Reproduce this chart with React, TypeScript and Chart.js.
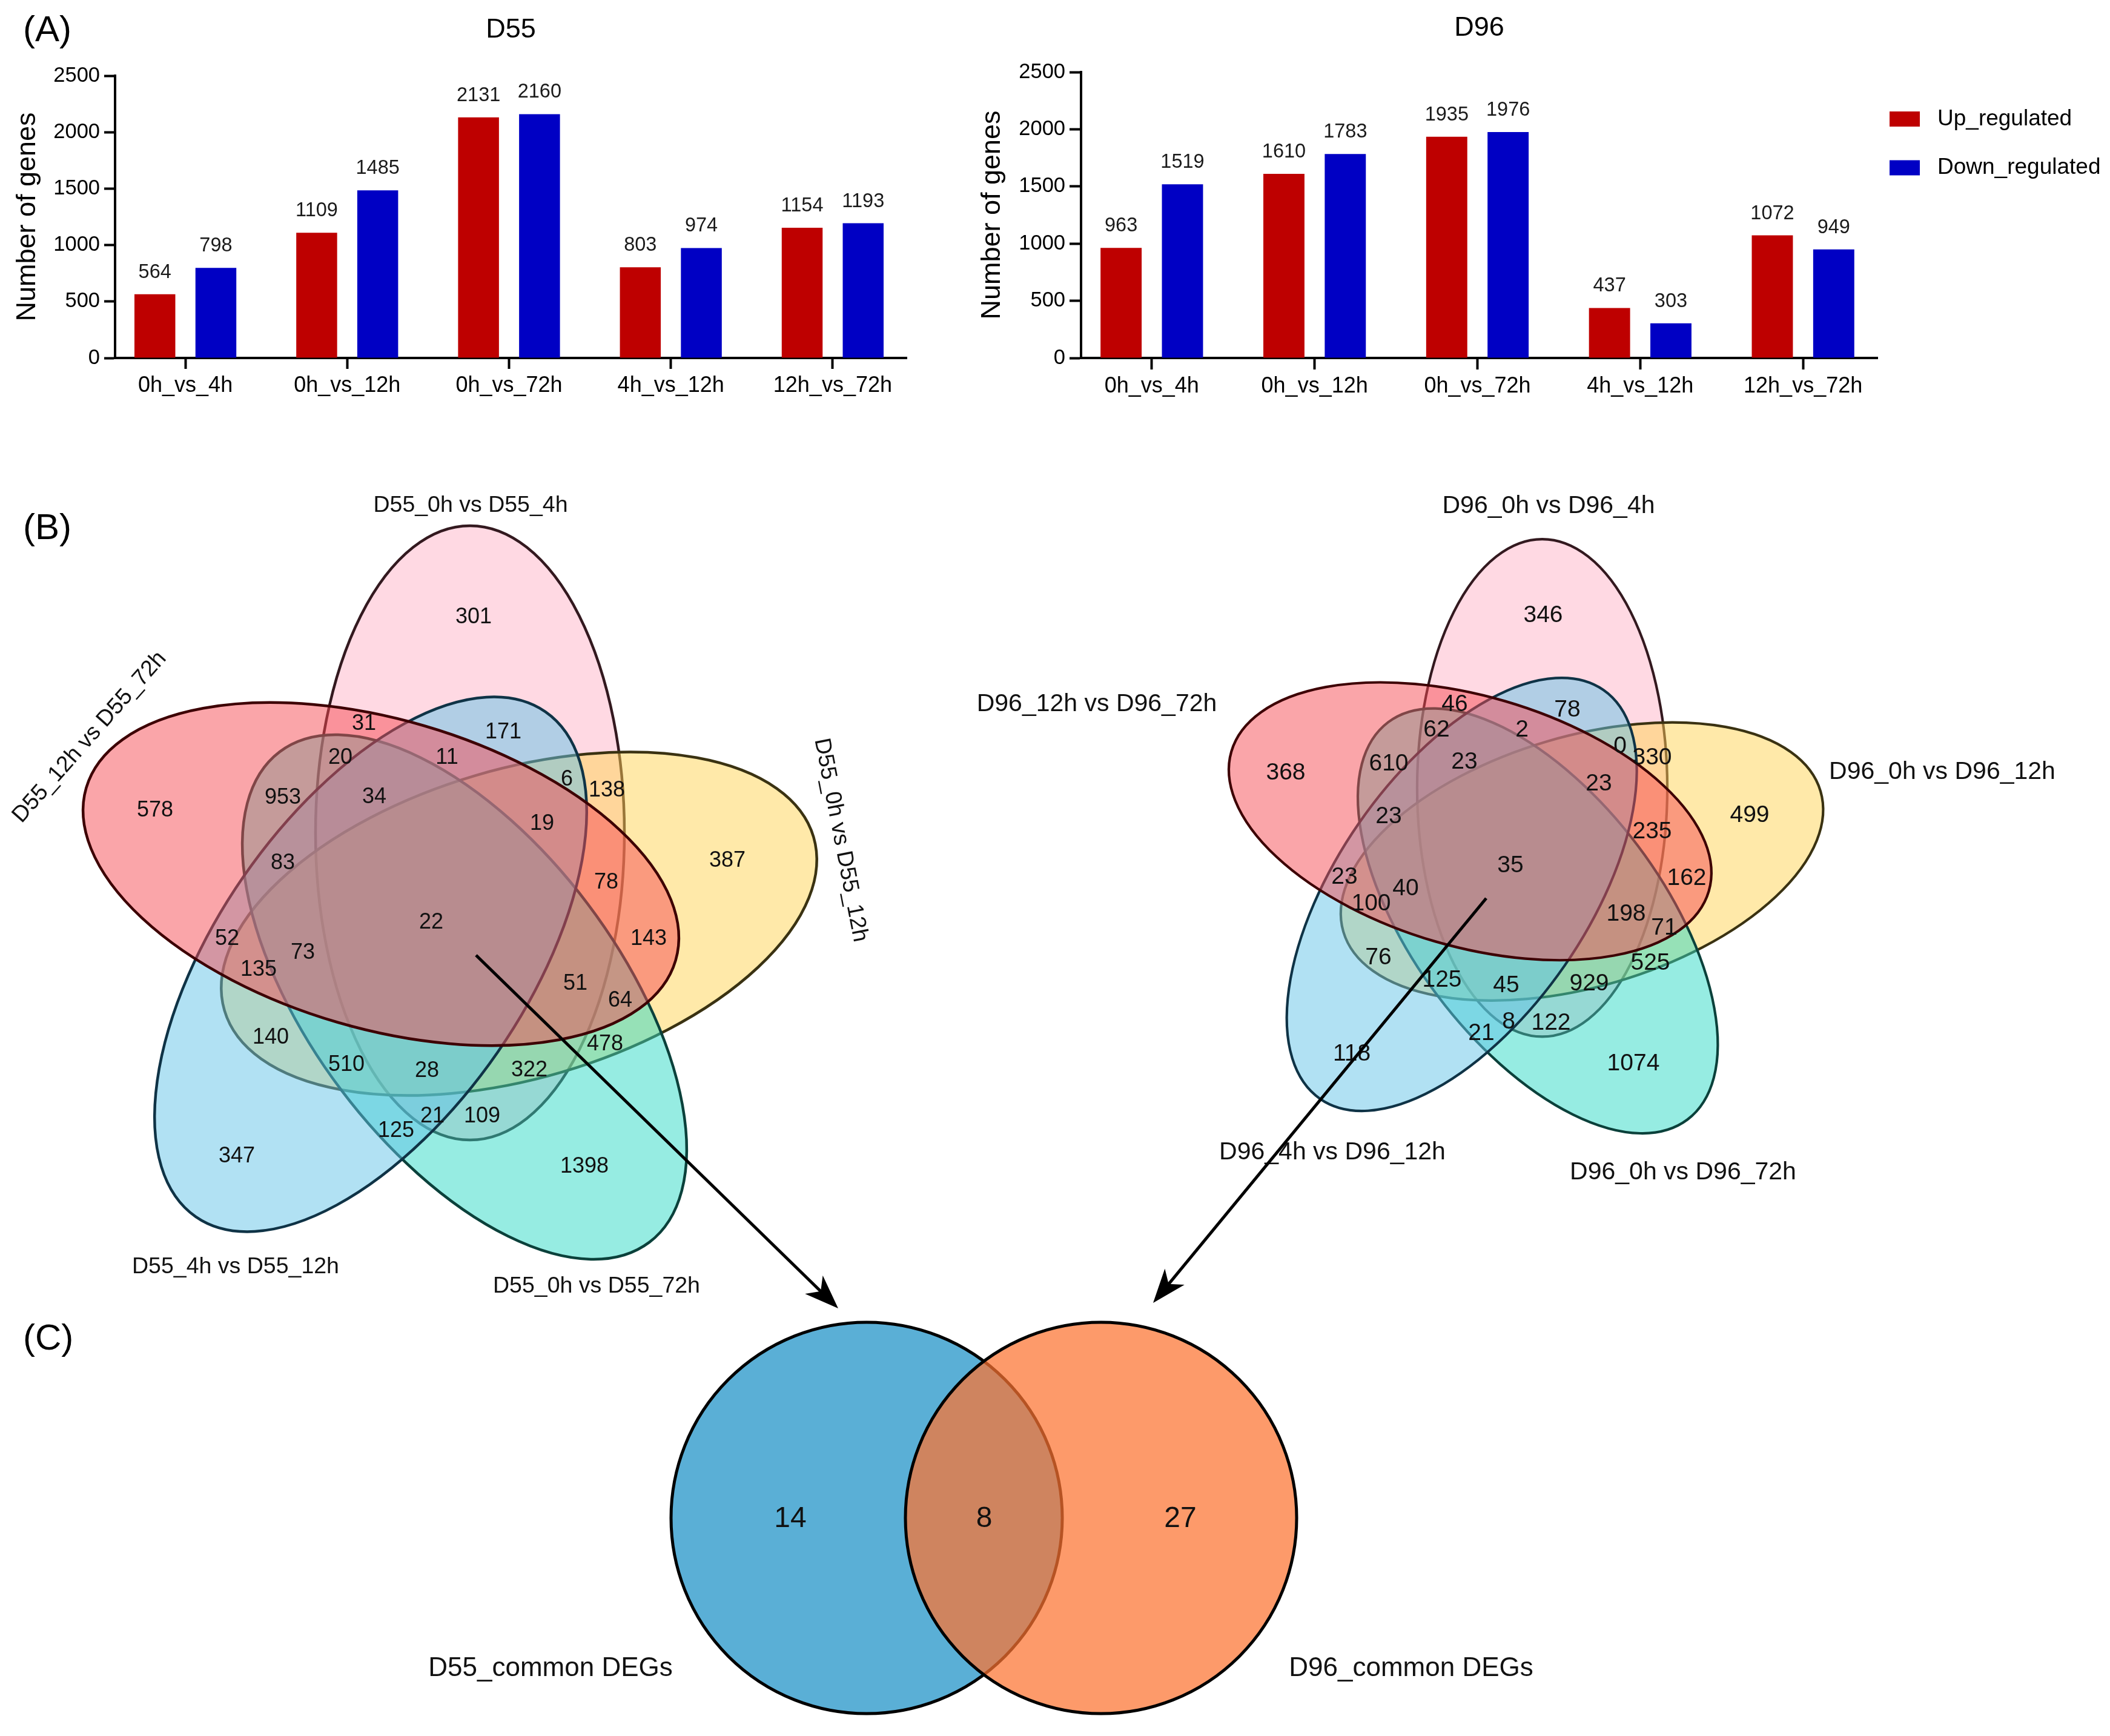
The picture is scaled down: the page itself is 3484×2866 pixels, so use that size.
import React, { useEffect, useRef } from 'react';
import { Chart, registerables } from 'chart.js';

Chart.register(...registerables);

const FONT = '"Liberation Sans", Arial, Helvetica, sans-serif';
Chart.defaults.font.family = FONT;
Chart.defaults.color = '#000';

// ---------------- (A) bar charts: data ----------------
const COMPARISONS = ['0h_vs_4h', '0h_vs_12h', '0h_vs_72h', '4h_vs_12h', '12h_vs_72h'];
const SERIES_NAMES = ['Up_regulated', 'Down_regulated'];
const D55_UP = [564, 1109, 2131, 803, 1154];
const D55_DOWN = [798, 1485, 2160, 974, 1193];
const D96_UP = [963, 1610, 1935, 437, 1072];
const D96_DOWN = [1519, 1783, 1976, 303, 949];
const Y_MAX = 2500;
const Y_STEP = 500;

// ---------------- (B) five-set Venn: data ----------------
const D55_SETS = ['D55_0h vs D55_4h', 'D55_0h vs D55_12h', 'D55_0h vs D55_72h', 'D55_4h vs D55_12h', 'D55_12h vs D55_72h'];
const D96_SETS = ['D96_0h vs D96_4h', 'D96_0h vs D96_12h', 'D96_0h vs D96_72h', 'D96_4h vs D96_12h', 'D96_12h vs D96_72h'];
const D55_REGION_COUNTS = [301, 31, 171, 20, 11, 6, 138, 578, 953, 34, 19, 387, 83, 78, 22, 52, 73, 143, 135, 51, 64, 140, 478, 510, 28, 322, 21, 109, 125, 347, 1398];
const D96_REGION_COUNTS = [346, 46, 78, 62, 2, 0, 330, 368, 610, 23, 23, 499, 23, 235, 35, 23, 40, 162, 100, 198, 71, 76, 525, 125, 45, 929, 8, 122, 21, 118, 1074];

// ---------------- (C) two-set Venn: data ----------------
const COMMON_SETS = ['D55_common DEGs', 'D96_common DEGs'];
const COMMON_COUNTS = [14, 8, 27];

// ---------------- layout of the diagrams (venn-space units) ----------------
type XY = [number, number];
const D55_REGION_POS: XY[] = [
  [782, 1019], [601, 1195], [831, 1209], [562, 1251], [738, 1251], [936, 1287], [1002, 1305],
  [256, 1338], [467, 1317], [618, 1316], [895, 1360], [1201, 1421], [467, 1425], [1001, 1457],
  [712, 1523], [375, 1550], [500, 1573], [1071, 1550], [427, 1601], [950, 1624], [1024, 1652],
  [447, 1713], [999, 1724], [572, 1758], [705, 1768], [874, 1767], [714, 1843], [796, 1843],
  [654, 1867], [391, 1909], [965, 1926],
];
const D96_REGION_POS: XY[] = [
  [2548, 1016], [2402, 1163], [2588, 1172], [2372, 1205], [2513, 1205], [2675, 1232], [2728, 1251],
  [2123, 1276], [2293, 1261], [2418, 1258], [2640, 1294], [2889, 1346], [2293, 1348], [2728, 1373],
  [2494, 1429], [2220, 1448], [2321, 1467], [2785, 1450], [2264, 1492], [2685, 1509], [2748, 1532],
  [2276, 1581], [2725, 1590], [2381, 1618], [2487, 1627], [2624, 1624], [2491, 1687], [2561, 1689],
  [2446, 1706], [2232, 1740], [2697, 1756],
];
const COMMON_POS: XY[] = [[1305, 2508], [1625, 2508], [1949, 2508]];

// ellipse template (offset from diagram centre, orientation in degrees), order = set order
const ELLIPSE_TEMPLATE = [
  { dx: 50, dy: -141, rot: 90 },
  { dx: 131, dy: 9, rot: -16.4 },
  { dx: 41, dy: 130, rot: 53 },
  { dx: -114, dy: 76, rot: -55.3 },
  { dx: -97, dy: -73, rot: 16.3 },
];
const ELLIPSE_A = 507;
const ELLIPSE_B = 255;
const FIVE_FILLS = [
  'rgba(255,179,199,0.5)',
  'rgba(255,211,83,0.5)',
  'rgba(45,217,197,0.5)',
  'rgba(100,196,232,0.5)',
  'rgba(245,76,84,0.5)',
];
const FIVE_STROKES = ['#33191f', '#3a3212', '#0b413b', '#0f3346', '#3d0003'];

const DIAGRAMS = [
  {
    cx: 726, cy: 1516, scale: 1, fontSize: 36, setFont: 37.5, lineWidth: 4.5,
    counts: D55_REGION_COUNTS, sets: D55_SETS,
    setPos: [[777, 835, 0], [1388, 1387, 79], [985, 2124, 0], [389, 2092, 0], [148, 1217, -48.6]],
  },
  {
    cx: 2506, cy: 1415, scale: 0.81, fontSize: 39, setFont: 41, lineWidth: 4.2,
    counts: D96_REGION_COUNTS, sets: D96_SETS,
    setPos: [[2557, 836, 0], [3207, 1275, 0], [2779, 1936, 0], [2200, 1903, 0], [1811, 1163, 0]],
  },
];

const COMMON_CIRCLES = [
  { x: 1431, y: 2506, r: 323, fill: 'rgba(27,144,198,0.72)' },
  { x: 1818, y: 2506, r: 323, fill: 'rgba(252,115,48,0.72)' },
];
const COMMON_LABEL_POS: XY[] = [[909, 2755], [2330, 2755]];
const ARROWS = [
  { from: [786, 1577] as XY, to: [1384, 2160] as XY },
  { from: [2454, 1483] as XY, to: [1904, 2151] as XY },
];
const PANEL_LABELS: { text: string; x: number; y: number }[] = [
  { text: '(B)', x: 38, y: 873 },
  { text: '(C)', x: 38, y: 2211 },
];

const RED = '#be0000';
const BLUE = '#0000c4';

// ---------------- plugins ----------------
const barDecor = {
  id: 'barDecor',
  afterDatasetsDraw(chart: any, _args: any, opts: any) {
    const ctx = chart.ctx as CanvasRenderingContext2D;
    const area = chart.chartArea;
    ctx.save();
    ctx.textAlign = 'center';
    ctx.textBaseline = 'middle';
    ctx.fillStyle = '#1a1a1a';
    ctx.font = `32.5px ${FONT}`;
    chart.data.datasets.forEach((ds: any, di: number) => {
      const meta = chart.getDatasetMeta(di);
      meta.data.forEach((el: any, i: number) => {
        ctx.fillText(String(ds.data[i].y), el.x, el.y - 36);
      });
    });
    ctx.fillStyle = '#000';
    ctx.font = `45px ${FONT}`;
    ctx.fillText(opts.title, (area.left + area.right) / 2, opts.titleY);
    if (opts.panel) {
      ctx.textAlign = 'left';
      ctx.font = `60px ${FONT}`;
      ctx.fillText(opts.panel, 38, 51);
    }
    if (opts.legend) {
      ctx.textAlign = 'left';
      ctx.font = `37px ${FONT}`;
      chart.data.datasets.forEach((ds: any, di: number) => {
        const y = opts.legend.y + di * opts.legend.step;
        ctx.fillStyle = ds.backgroundColor;
        ctx.fillRect(opts.legend.x, y - 12.5, 50, 25);
        ctx.fillStyle = '#000';
        ctx.fillText(ds.label, opts.legend.x + 79, y);
      });
    }
    ctx.restore();
  },
};

function barConfig(p: {
  title: string; up: number[]; down: number[]; canvasW: number; canvasH: number;
  left: number; right: number; top: number; bottom: number; yTitlePad: number;
  panel?: string; legend?: { x: number; y: number; step: number }; titleY: number; tickLen: number;
}): any {
  return {
    type: 'bar',
    data: {
      datasets: [
        { label: SERIES_NAMES[0], data: p.up.map((v, i) => ({ x: i, y: v })), backgroundColor: RED, borderWidth: 0 },
        { label: SERIES_NAMES[1], data: p.down.map((v, i) => ({ x: i, y: v })), backgroundColor: BLUE, borderWidth: 0 },
      ],
    },
    options: {
      animation: false,
      responsive: false,
      devicePixelRatio: 1,
      events: [],
      layout: { padding: { left: 0, top: p.top, right: p.canvasW - p.right, bottom: 0 } },
      datasets: { bar: { categoryPercentage: 0.754, barPercentage: 0.67 } },
      plugins: {
        legend: { display: false },
        tooltip: { enabled: false },
        barDecor: { title: p.title, titleY: p.titleY, panel: p.panel, legend: p.legend },
      },
      scales: {
        x: {
          type: 'linear',
          min: -0.4345,
          max: 4.457,
          bounds: 'data',
          offset: false,
          afterBuildTicks: (s: any) => {
            s.ticks = COMPARISONS.map((_, i) => ({ value: i }));
          },
          afterFit: (s: any) => {
            s.height = p.canvasH - p.bottom;
          },
          ticks: {
            callback: (v: number) => COMPARISONS[Math.round(v)],
            font: { size: 36 },
            color: '#000',
            padding: 6,
            autoSkip: false,
            maxRotation: 0,
            minRotation: 0,
          },
          grid: { display: true, offset: false, drawOnChartArea: false, drawTicks: true, tickLength: p.tickLen, tickWidth: 4, tickColor: '#000' },
          border: { display: true, width: 4, color: '#000' },
        },
        y: {
          type: 'linear',
          min: 0,
          max: Y_MAX,
          afterFit: (s: any) => {
            s.width = p.left;
          },
          ticks: { stepSize: Y_STEP, font: { size: 34.5 }, color: '#000', padding: 7, callback: (v: number) => String(v) },
          grid: { display: true, drawOnChartArea: false, drawTicks: true, tickLength: p.tickLen, tickWidth: 4, tickColor: '#000' },
          border: { display: true, width: 4, color: '#000' },
          title: { display: true, text: 'Number of genes', font: { size: 45 }, color: '#000', padding: { top: p.yTitlePad, bottom: 0 } },
        },
      },
    },
    plugins: [barDecor],
  };
}

const vennDraw = {
  id: 'vennDraw',
  beforeDatasetsDraw(chart: any) {
    const ctx = chart.ctx as CanvasRenderingContext2D;
    const xs = chart.scales.x;
    const ys = chart.scales.y;
    const px = (v: number) => xs.getPixelForValue(v);
    const py = (v: number) => ys.getPixelForValue(v);
    const len = (d: number) => Math.abs(px(d) - px(0));
    ctx.save();
    for (const dg of DIAGRAMS) {
      ELLIPSE_TEMPLATE.forEach((t, i) => {
        ctx.beginPath();
        ctx.ellipse(
          px(dg.cx + t.dx * dg.scale), py(dg.cy + t.dy * dg.scale),
          len(ELLIPSE_A * dg.scale), len(ELLIPSE_B * dg.scale),
          (t.rot * Math.PI) / 180, 0, Math.PI * 2,
        );
        ctx.fillStyle = FIVE_FILLS[i];
        ctx.fill();
        ctx.lineWidth = dg.lineWidth;
        ctx.strokeStyle = FIVE_STROKES[i];
        ctx.stroke();
      });
    }
    for (const c of COMMON_CIRCLES) {
      ctx.beginPath();
      ctx.ellipse(px(c.x), py(c.y), len(c.r), len(c.r), 0, 0, Math.PI * 2);
      ctx.fillStyle = c.fill;
      ctx.fill();
      ctx.lineWidth = 5;
      ctx.strokeStyle = '#000';
      ctx.stroke();
    }
    ctx.restore();
  },
  afterDatasetsDraw(chart: any) {
    const ctx = chart.ctx as CanvasRenderingContext2D;
    const xs = chart.scales.x;
    const ys = chart.scales.y;
    const px = (v: number) => xs.getPixelForValue(v);
    const py = (v: number) => ys.getPixelForValue(v);
    ctx.save();
    ctx.textAlign = 'center';
    ctx.textBaseline = 'middle';
    ctx.fillStyle = '#111';
    DIAGRAMS.forEach((dg, di) => {
      const meta = chart.getDatasetMeta(di);
      ctx.font = `${dg.fontSize}px ${FONT}`;
      meta.data.forEach((el: any, i: number) => {
        ctx.fillText(String(dg.counts[i]), el.x, el.y);
      });
      ctx.font = `${dg.setFont}px ${FONT}`;
      dg.sets.forEach((name, si) => {
        const [x, y, rot] = dg.setPos[si];
        ctx.save();
        ctx.translate(px(x), py(y));
        ctx.rotate((rot * Math.PI) / 180);
        ctx.fillText(name, 0, 0);
        ctx.restore();
      });
    });
    const cmeta = chart.getDatasetMeta(2);
    ctx.font = `48px ${FONT}`;
    cmeta.data.forEach((el: any, i: number) => ctx.fillText(String(COMMON_COUNTS[i]), el.x, el.y));
    ctx.font = `44px ${FONT}`;
    COMMON_SETS.forEach((name, i) => ctx.fillText(name, px(COMMON_LABEL_POS[i][0]), py(COMMON_LABEL_POS[i][1])));
    ctx.textAlign = 'left';
    ctx.font = `60px ${FONT}`;
    ctx.fillStyle = '#000';
    PANEL_LABELS.forEach((l) => ctx.fillText(l.text, px(l.x), py(l.y)));
    ctx.strokeStyle = '#000';
    ctx.fillStyle = '#000';
    ctx.lineWidth = 5;
    for (const a of ARROWS) {
      const x1 = px(a.from[0]), y1 = py(a.from[1]);
      const x2 = px(a.to[0]), y2 = py(a.to[1]);
      const L = Math.hypot(x2 - x1, y2 - y1);
      const ux = (x2 - x1) / L, uy = (y2 - y1) / L;
      const nx = -uy, ny = ux;
      const head = 56, half = 21;
      ctx.beginPath();
      ctx.moveTo(x1, y1);
      ctx.lineTo(x2 - ux * head * 0.6, y2 - uy * head * 0.6);
      ctx.stroke();
      ctx.beginPath();
      ctx.moveTo(x2, y2);
      ctx.lineTo(x2 - ux * head + nx * half, y2 - uy * head + ny * half);
      ctx.lineTo(x2 - ux * head * 0.72, y2 - uy * head * 0.72);
      ctx.lineTo(x2 - ux * head - nx * half, y2 - uy * head - ny * half);
      ctx.closePath();
      ctx.fill();
    }
    ctx.restore();
  },
};

function vennConfig(): any {
  return {
    type: 'scatter',
    data: {
      datasets: [
        { label: 'D55 regions', data: D55_REGION_POS.map(([x, y]) => ({ x, y })), pointRadius: 0 },
        { label: 'D96 regions', data: D96_REGION_POS.map(([x, y]) => ({ x, y })), pointRadius: 0 },
        { label: 'common regions', data: COMMON_POS.map(([x, y]) => ({ x, y })), pointRadius: 0 },
      ],
    },
    options: {
      animation: false,
      responsive: false,
      devicePixelRatio: 1,
      events: [],
      layout: { padding: 0 },
      plugins: { legend: { display: false }, tooltip: { enabled: false } },
      scales: {
        x: { type: 'linear', min: 0, max: 3484, display: false },
        y: { type: 'linear', min: 700, max: 2866, reverse: true, display: false },
      },
    },
    plugins: [vennDraw],
  };
}

export default function App() {
  const leftRef = useRef<HTMLCanvasElement>(null);
  const rightRef = useRef<HTMLCanvasElement>(null);
  const vennRef = useRef<HTMLCanvasElement>(null);

  useEffect(() => {
    document.body.style.margin = '0';
    document.body.style.background = '#fff';
    const charts: Chart[] = [];
    charts.push(
      new Chart(leftRef.current!, barConfig({
        title: 'D55', up: D55_UP, down: D55_DOWN, canvasW: 1560, canvasH: 700,
        left: 190, right: 1497, top: 125, bottom: 591, yTitlePad: 19, panel: '(A)', titleY: 50, tickLen: 18,
      })),
    );
    charts.push(
      new Chart(rightRef.current!, barConfig({
        title: 'D96', up: D96_UP, down: D96_DOWN, canvasW: 1924, canvasH: 700,
        left: 225, right: 1540, top: 119, bottom: 591, yTitlePad: 52, titleY: 47, tickLen: 19,
        legend: { x: 1560, y: 196.5, step: 80.5 },
      })),
    );
    charts.push(new Chart(vennRef.current!, vennConfig()));
    return () => charts.forEach((c) => c.destroy());
  }, []);

  return (
    <div style={{ position: 'relative', width: 3484, height: 2866, background: '#fff', overflow: 'hidden' }}>
      <canvas ref={leftRef} width={1560} height={700} style={{ position: 'absolute', left: 0, top: 0, width: 1560, height: 700 }} />
      <canvas ref={rightRef} width={1924} height={700} style={{ position: 'absolute', left: 1560, top: 0, width: 1924, height: 700 }} />
      <canvas ref={vennRef} width={3484} height={2166} style={{ position: 'absolute', left: 0, top: 700, width: 3484, height: 2166 }} />
    </div>
  );
}
